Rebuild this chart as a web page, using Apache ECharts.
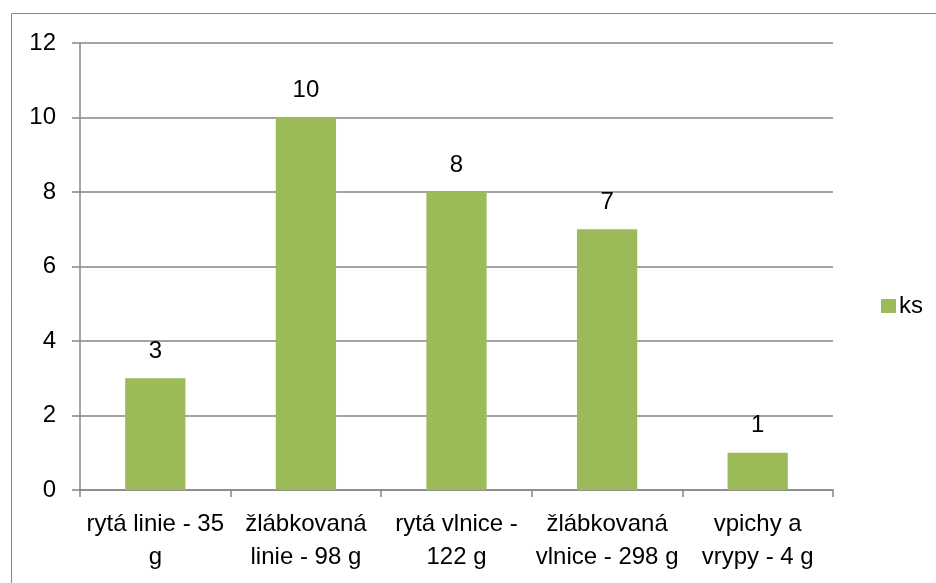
<!DOCTYPE html>
<html>
<head>
<meta charset="utf-8">
<script src="https://cdn.jsdelivr.net/npm/echarts@6/dist/echarts.min.js"></script>
<style>
  html, body { margin: 0; padding: 0; background: #fff; }
  #chart { width: 936px; height: 583px; }
</style>
</head>
<body>
<div id="chart"></div>
<script>
// kategorie (zalomení řádků jako v originále)
const categories = [
  "rytá linie - 35\ng",
  "žlábkovaná\nlinie - 98 g",
  "rytá vlnice -\n122 g",
  "žlábkovaná\nvlnice - 298 g",
  "vpichy a\nvrypy - 4 g"
]
const ksValues = [3, 10, 8, 7, 1]
const seriesName = "ks"

const font = "'Liberation Sans', Arial, sans-serif"
const green = "#9BBB59"
const gray = "#868686"

const chart = echarts.init(document.getElementById("chart"))

chart.setOption({
  backgroundColor: "#fff",
  animation: false,
  textStyle: { fontFamily: font },
  graphic: [
    {
      type: "rect",
      shape: { x: 11.5, y: 13.5, width: 1000, height: 1000 },
      style: { fill: "none", stroke: gray, lineWidth: 1 },
      silent: true
    }
  ],
  grid: {
    left: 80,
    top: 43,
    right: 103,
    bottom: 93
  },
  legend: {
    orient: "vertical",
    left: 876,
    top: 289,
    itemWidth: 15,
    itemHeight: 14,
    itemGap: 8,
    icon: "rect",
    textStyle: { fontFamily: font, fontSize: 24, color: "#000", padding: [0, 0, 0, -2] },
    data: [seriesName]
  },
  xAxis: {
    type: "category",
    data: categories,
    axisLine: { lineStyle: { color: gray, width: 1.5 } },
    axisTick: { show: true, length: 7, lineStyle: { color: gray, width: 1.5 } },
    axisLabel: {
      color: "#000",
      fontFamily: font,
      fontSize: 24,
      lineHeight: 33,
      margin: 18,
      interval: 0
    }
  },
  yAxis: {
    type: "value",
    min: 0,
    max: 12,
    interval: 2,
    axisLine: { show: true, lineStyle: { color: gray, width: 1.5 } },
    axisTick: { show: true, length: 8, lineStyle: { color: gray, width: 1.5 } },
    splitLine: { lineStyle: { color: gray, width: 1.5 } },
    axisLabel: {
      color: "#000",
      fontFamily: font,
      fontSize: 24,
      margin: 24
    }
  },
  series: [
    {
      name: seriesName,
      type: "bar",
      data: ksValues,
      barWidth: "40%",
      itemStyle: { color: green },
      label: {
        show: true,
        position: "top",
        distance: 15,
        color: "#000",
        fontFamily: font,
        fontSize: 24
      }
    }
  ]
})
</script>
</body>
</html>
